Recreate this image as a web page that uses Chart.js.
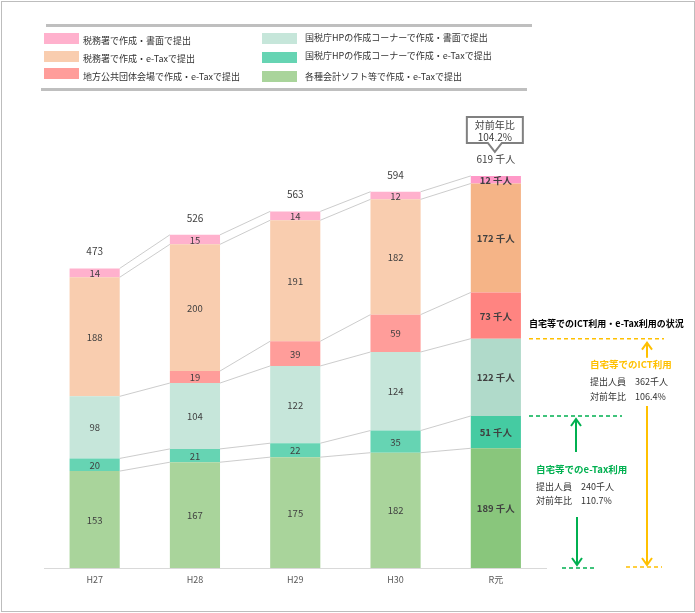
<!DOCTYPE html>
<html>
<head>
<meta charset="utf-8">
<script src="https://cdn.jsdelivr.net/npm/chart.js@4"></script>
<style>
body { margin: 0; background: #fff; font-family: 'Noto Sans CJK JP', sans-serif; }
#frame { position: absolute; left: 1px; top: 1px; width: 694px; height: 611px; box-sizing: border-box; border: 1px solid #BDBDBD; }
#chart { position: absolute; left: 0; top: 0; }
.rule { position: absolute; height: 3px; background: #BFBFBF; }
.sw { position: absolute; width: 35px; height: 11px; }
.lt { position: absolute; font-size: 9px; color: #333; line-height: 12px; white-space: nowrap; }
</style>
</head>
<body>
<div id="frame"></div>
<canvas id="chart" width="695" height="613"></canvas>
<div class="rule" style="left:46px;top:24px;width:486px"></div>
<div class="rule" style="left:41px;top:88px;width:486px"></div>
<div id="legend"></div>
<script>
// 年度
const years = ['H27', 'H28', 'H29', 'H30', 'R元'];

// 系列（下から積み上げ順）
const softEtax = [153, 167, 175, 182, 189];      // 各種会計ソフト等で作成・e-Taxで提出
const hpEtax = [20, 21, 22, 35, 51];             // 国税庁HPの作成コーナーで作成・e-Taxで提出
const hpPaper = [98, 104, 122, 124, 122];        // 国税庁HPの作成コーナーで作成・書面で提出
const localEtax = [null, 19, 39, 59, 73];        // 地方公共団体会場で作成・e-Taxで提出
const officeEtax = [188, 200, 191, 182, 172];    // 税務署で作成・e-Taxで提出
const officePaper = [14, 15, 14, 12, 12];        // 税務署で作成・書面で提出

const seriesNames = [
  '各種会計ソフト等で作成・e-Taxで提出',
  '国税庁HPの作成コーナーで作成・e-Taxで提出',
  '国税庁HPの作成コーナーで作成・書面で提出',
  '地方公共団体会場で作成・e-Taxで提出',
  '税務署で作成・e-Taxで提出',
  '税務署で作成・書面で提出'
];
const seriesValues = [softEtax, hpEtax, hpPaper, localEtax, officeEtax, officePaper];

const totalYoy = '104.2%';
const ictYoy = '106.4%';
const etaxYoy = '110.7%';

const lightColors = ['#A9D49B', '#66D4B3', '#C6E6DA', '#FF9D9A', '#F9CDAF', '#FFB1CD'];
const darkColors = ['#89C67C', '#45CBA2', '#B0DACA', '#FF8481', '#F5B487', '#FF99C8'];

const FONT = '"Noto Sans CJK JP", sans-serif';
const last = years.length - 1;
const totals = years.map((_, i) => seriesValues.reduce((s, v) => s + (v[i] || 0), 0));
const ictCount = softEtax[last] + hpEtax[last] + hpPaper[last];
const etaxCount = softEtax[last] + hpEtax[last];

// legend (2 columns, column-major)
const legendCols = [[5, 4, 3], [2, 1, 0]];
const swX = [44, 262], txX = [83, 305];
const swTop = [[33, 51, 68], [33, 52, 71]];
const txMid = [[41, 59, 77], [38, 56, 77]];
const legendEl = document.getElementById('legend');
legendCols.forEach((col, c) => {
  col.forEach((si, r) => {
    const sw = document.createElement('div');
    sw.className = 'sw';
    sw.style.left = swX[c] + 'px';
    sw.style.top = swTop[c][r] + 'px';
    sw.style.background = lightColors[si];
    legendEl.appendChild(sw);
    const t = document.createElement('div');
    t.className = 'lt';
    t.style.left = txX[c] + 'px';
    t.style.top = (txMid[c][r] - 6) + 'px';
    t.textContent = seriesNames[si];
    legendEl.appendChild(t);
  });
});

function arrow(ctx, x, y1, y2, color) {
  const dir = y2 > y1 ? 1 : -1;
  ctx.strokeStyle = color;
  ctx.lineWidth = 2;
  ctx.beginPath();
  ctx.moveTo(x, y1);
  ctx.lineTo(x, y2);
  ctx.moveTo(x - 5, y2 - dir * 7);
  ctx.lineTo(x, y2);
  ctx.lineTo(x + 5, y2 - dir * 7);
  ctx.stroke();
}

function dash(ctx, x1, x2, y, color) {
  ctx.strokeStyle = color;
  ctx.lineWidth = 1.5;
  ctx.setLineDash([4, 3]);
  ctx.beginPath();
  ctx.moveTo(x1, y);
  ctx.lineTo(x2, y);
  ctx.stroke();
  ctx.setLineDash([]);
}

const overlay = {
  id: 'overlay',
  afterDatasetsDraw(chart) {
    const ctx = chart.ctx;
    const y = chart.scales.y;
    const metas = chart.data.datasets.map((d, i) => chart.getDatasetMeta(i));
    ctx.save();

    // series lines between bars
    ctx.strokeStyle = '#BFBFBF';
    ctx.lineWidth = 0.8;
    metas.forEach((meta, di) => {
      const data = seriesValues[di];
      for (let i = 0; i < last; i++) {
        if (data[i] == null || data[i + 1] == null) continue;
        const a = meta.data[i], b = meta.data[i + 1];
        ctx.beginPath();
        ctx.moveTo(a.x + a.width / 2, a.y);
        ctx.lineTo(b.x - b.width / 2, b.y);
        ctx.stroke();
      }
    });

    // segment labels
    ctx.fillStyle = '#404040';
    ctx.textAlign = 'center';
    ctx.textBaseline = 'middle';
    metas.forEach((meta, di) => {
      const data = seriesValues[di];
      meta.data.forEach((bar, i) => {
        if (data[i] == null) return;
        const isLast = i === last;
        ctx.font = (isLast ? 'bold ' : '') + '9.5px ' + FONT;
        ctx.fillText(isLast ? data[i] + ' 千人' : String(data[i]), bar.x, (bar.y + bar.base) / 2 + 0.5);
      });
    });

    // totals
    const top = metas[metas.length - 1];
    ctx.font = '10px ' + FONT;
    top.data.forEach((bar, i) => {
      ctx.fillText(i === last ? totals[i] + ' 千人' : String(totals[i]), bar.x, bar.y - 17);
    });

    // callout on the last bar
    const lb = top.data[last];
    const cx = lb.x - 1, bt = lb.y - 59, bb = lb.y - 33;
    ctx.beginPath();
    ctx.moveTo(cx - 28, bt);
    ctx.lineTo(cx + 28, bt);
    ctx.lineTo(cx + 28, bb);
    ctx.lineTo(cx + 7, bb);
    ctx.lineTo(cx, bb + 9);
    ctx.lineTo(cx - 7, bb);
    ctx.lineTo(cx - 28, bb);
    ctx.closePath();
    ctx.fillStyle = '#fff';
    ctx.fill();
    ctx.strokeStyle = '#808080';
    ctx.lineWidth = 2;
    ctx.stroke();
    ctx.fillStyle = '#404040';
    ctx.font = '10px ' + FONT;
    ctx.fillText('対前年比', cx, bt + 8);
    ctx.fillText(totalYoy, cx, bt + 20);

    // right-hand annotation
    const yIct = y.getPixelForValue(ictCount);
    const yEtax = y.getPixelForValue(etaxCount);
    const y0 = y.getPixelForValue(0);
    const orange = '#FFC000', green = '#00B050';

    ctx.textAlign = 'left';
    ctx.fillStyle = '#000';
    ctx.font = 'bold 9px ' + FONT;
    ctx.fillText('自宅等でのICT利用・e-Tax利用の状況', 529, yIct - 15);

    dash(ctx, 529, 664, yIct, orange);
    dash(ctx, 529, 622, yEtax, green);
    dash(ctx, 562, 595, y0, green);
    dash(ctx, 626, 662, y0 - 1, orange);

    arrow(ctx, 647, yIct + 19, yIct + 4, orange);
    arrow(ctx, 647, 406, y0 - 3, orange);
    arrow(ctx, 576, yEtax + 36, yEtax + 3, green);
    arrow(ctx, 577, 517, y0 - 3, green);

    ctx.font = 'bold 9.5px ' + FONT;
    ctx.fillStyle = orange;
    ctx.fillText('自宅等でのICT利用', 590, 364);
    ctx.fillStyle = green;
    ctx.fillText('自宅等でのe-Tax利用', 536, 469);

    ctx.font = '9px ' + FONT;
    ctx.fillStyle = '#333';
    ctx.fillText('提出人員　' + ictCount + '千人', 590, 382);
    ctx.fillText('対前年比　' + ictYoy, 590, 397);
    ctx.fillText('提出人員　' + etaxCount + '千人', 536, 487);
    ctx.fillText('対前年比　' + etaxYoy, 536, 501);

    ctx.restore();
  }
};

new Chart(document.getElementById('chart'), {
  type: 'bar',
  data: {
    labels: years,
    datasets: seriesValues.map((vals, i) => ({
      label: seriesNames[i],
      data: vals,
      backgroundColor: years.map((_, j) => j === last ? darkColors[i] : lightColors[i]),
      borderWidth: 0,
      barPercentage: 0.5,
      categoryPercentage: 1
    }))
  },
  options: {
    responsive: false,
    animation: false,
    layout: { padding: { left: 44.5, right: 149, top: 124.6, bottom: 15 } },
    plugins: { legend: { display: false }, tooltip: { enabled: false } },
    scales: {
      x: {
        stacked: true,
        grid: { display: false, drawTicks: false },
        border: { display: true, color: '#D9D9D9', width: 1 },
        ticks: { color: '#595959', font: { family: FONT, size: 9 }, padding: 6 },
        afterFit: (s) => { s.height = 30; }
      },
      y: {
        stacked: true,
        display: false,
        min: 0,
        max: 700
      }
    }
  },
  plugins: [overlay]
});
</script>
</body>
</html>
